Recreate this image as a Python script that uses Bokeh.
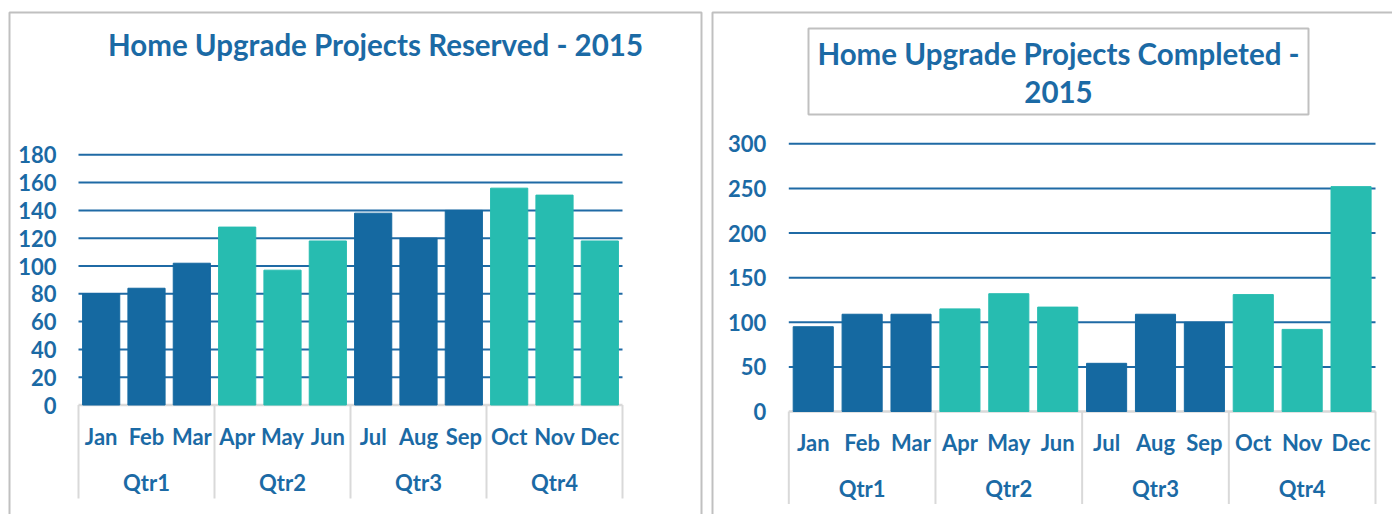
import numpy as np
from bokeh.plotting import figure
from bokeh.models import Range1d, ColumnDataSource
from bokeh.layouts import row
from bokeh.embed import file_html
from bokeh.resources import INLINE
from bokeh.core.properties import value

# ---------------- data ----------------
quarters = ["Qtr1", "Qtr2", "Qtr3", "Qtr4"]
months = ["Jan", "Feb", "Mar", "Apr", "May", "Jun",
          "Jul", "Aug", "Sep", "Oct", "Nov", "Dec"]
reserved = [80, 84, 102, 128, 97, 118, 138, 120, 140, 156, 151, 118]
completed = [95, 109, 109, 115, 132, 117, 54, 109, 100, 131, 92, 252]
reserved_ticks = [0, 20, 40, 60, 80, 100, 120, 140, 160, 180]
completed_ticks = [0, 50, 100, 150, 200, 250, 300]
title_reserved = ["Home Upgrade Projects Reserved - 2015"]
title_completed = ["Home Upgrade Projects Completed -", "2015"]

# ---------------- style ----------------
DARK = "#1569a1"
TEAL = "#27bcb0"
TEXT = "#1b6aa5"
GRID = "#1f6aa5"
LIGHT = "#d9d9d9"
BORDER = "#c0c0c0"
FONT = "Lato"
H = 514
W_LEFT, W_RIGHT = 706, 686

per_q = len(months) // len(quarters)
qtr_idx = [i // per_q for i in range(len(months))]
colors = [DARK if q % 2 == 0 else TEAL for q in qtr_idx]


def make_panel(width, values, ticks, titles, g):
    off = g["off"]
    n = len(values)
    bx0, bx1 = g["x0"] - off, g["x1"] - off
    ppc = (bx1 - bx0) / n
    sy = (g["y0"] - g["ytop"]) / ticks[-1]

    def X(px):  # page px -> data x
        return (px - off - bx0) / ppc - 0.5

    def Y(py):  # page px -> data y
        return (g["y0"] - py) / sy

    p = figure(width=width, height=H,
               x_range=Range1d(X(off), X(off + width)), y_range=Range1d(Y(H), Y(0)),
               x_axis_location=None, y_axis_location=None, toolbar_location=None,
               output_backend="svg", min_border=0, min_border_left=0,
               min_border_right=0, min_border_top=0, min_border_bottom=0,
               outline_line_color=None, background_fill_color="white",
               border_fill_color="white")
    p.grid.visible = False

    idx = list(range(n))
    left_edge, right_edge = -0.5, n - 0.5

    # gridlines (value ticks above zero)
    gt = ticks[1:]
    p.segment(x0=[left_edge] * len(gt), x1=[right_edge] * len(gt), y0=gt, y1=gt,
              line_color=GRID, line_width=2)
    # category axis: horizontal base line and group separators
    p.segment(x0=[left_edge], x1=[right_edge], y0=[0], y1=[0],
              line_color=LIGHT, line_width=2.5)
    seps = [q * per_q - 0.5 for q in range(len(quarters) + 1)]
    p.segment(x0=seps, x1=seps, y0=[0] * len(seps), y1=[Y(g["sep_bottom"])] * len(seps),
              line_color=LIGHT, line_width=2)

    # bars
    src = ColumnDataSource(dict(x=idx, top=values, color=colors))
    p.vbar(x="x", top="top", bottom=0, width=0.82, color="color", source=src)

    tkw = dict(text_font=value(FONT), text_font_style="bold", text_color=TEXT,
               text_baseline="middle")
    # value-axis labels
    p.text(x=[X(g["label_right"])] * len(ticks), y=ticks, text=[str(t) for t in ticks],
           text_align="right", text_font_size="22px", **tkw)
    # month labels and quarter labels
    p.text(x=idx, y=[Y(g["month_y"])] * n, text=months, text_align="center",
           text_font_size="22px", **tkw)
    qx = [float(np.mean([i for i in idx if qtr_idx[i] == q])) for q in range(len(quarters))]
    p.text(x=qx, y=[Y(g["qtr_y"])] * len(quarters), text=quarters, text_align="center",
           text_font_size="22px", **tkw)

    # panel border
    bx = [X(b) for b in g["border_x"]]
    if len(bx) == 2:
        p.line(x=[bx[0], bx[0], bx[1], bx[1]], y=[Y(H + 20), Y(g["border_top"]),
               Y(g["border_top"]), Y(H + 20)], line_color=BORDER, line_width=2)
    else:
        p.line(x=[bx[0], bx[0], X(off + width + 20)], y=[Y(H + 20), Y(g["border_top"]),
               Y(g["border_top"])], line_color=BORDER, line_width=2)

    # title (optional box)
    if "title_box" in g:
        l, r, t, b = g["title_box"]
        p.quad(left=[X(l)], right=[X(r)], top=[Y(t)], bottom=[Y(b)], fill_alpha=0,
               line_color=BORDER, line_width=2)
    p.text(x=[X(g["title_x"])] * len(titles), y=[Y(yy) for yy in g["title_y"]], text=titles,
           text_align="center", text_font_size="29.5px", **tkw)
    return p


left_geo = dict(off=0, x0=78, x1=622, y0=404.5, ytop=154.3, label_right=56,
                month_y=435.5, qtr_y=481.5, sep_bottom=498,
                border_x=[9, 701], border_top=12, title_x=375, title_y=[44])
right_geo = dict(off=W_LEFT, x0=788.3, x1=1375, y0=411, ytop=143.3, label_right=765.7,
                 month_y=441.5, qtr_y=487.5, sep_bottom=503.5,
                 border_x=[712], border_top=12, title_box=(808, 1308, 28, 114),
                 title_x=1058, title_y=[52.5, 91])

left = make_panel(W_LEFT, reserved, reserved_ticks, title_reserved, left_geo)
right = make_panel(W_RIGHT, completed, completed_ticks, title_completed, right_geo)

layout = row(left, right, spacing=0)
open("out.html", "w").write(file_html(layout, INLINE))
